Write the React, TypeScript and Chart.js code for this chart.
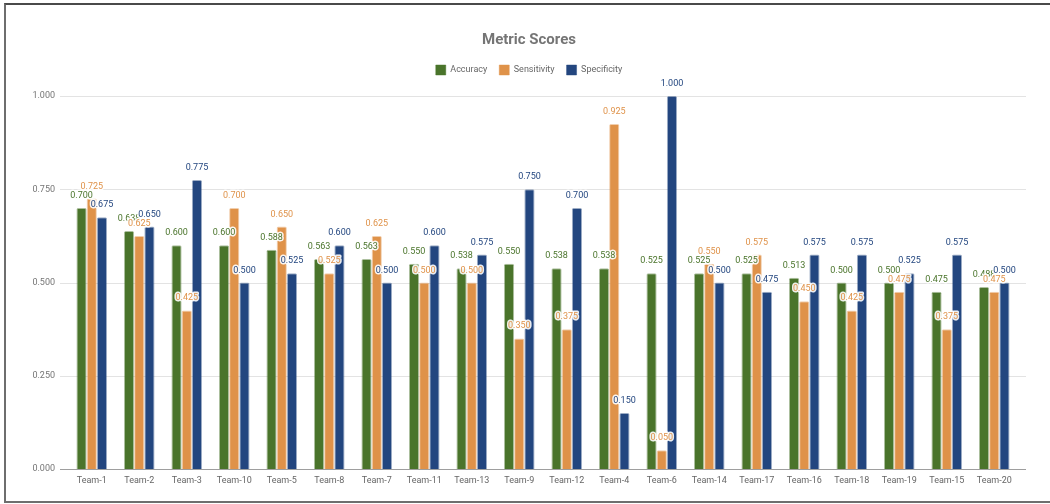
import React, { useEffect, useRef } from "react";
import { Chart, registerables } from "chart.js";

Chart.register(...registerables);

const categories = ["Team-1", "Team-2", "Team-3", "Team-10", "Team-5", "Team-8", "Team-7", "Team-11", "Team-13", "Team-9", "Team-12", "Team-4", "Team-6", "Team-14", "Team-17", "Team-16", "Team-18", "Team-19", "Team-15", "Team-20"];
const accuracy = [0.7, 0.638, 0.6, 0.6, 0.588, 0.563, 0.563, 0.55, 0.538, 0.55, 0.538, 0.538, 0.525, 0.525, 0.525, 0.513, 0.5, 0.5, 0.475, 0.488];
const sensitivity = [0.725, 0.625, 0.425, 0.7, 0.65, 0.525, 0.625, 0.5, 0.5, 0.35, 0.375, 0.925, 0.05, 0.55, 0.575, 0.45, 0.425, 0.475, 0.375, 0.475];
const specificity = [0.675, 0.65, 0.775, 0.5, 0.525, 0.6, 0.5, 0.6, 0.575, 0.75, 0.7, 0.15, 1.0, 0.5, 0.475, 0.575, 0.575, 0.525, 0.575, 0.5];
const yTicks = [0, 0.25, 0.5, 0.75, 1.0];

const GREEN = "#4a742b";
const ORANGE = "#df9249";
const BLUE = "#23467f";

export default function App() {
  const ref = useRef<HTMLCanvasElement | null>(null);
  useEffect(() => {
    document.body.style.margin = "0";
    const canvas = ref.current;
    if (!canvas) return;
    Chart.defaults.font.family = "Roboto";
    const gridPlugin = {
      id: "gridPlugin",
      afterInit(chart: any) {
        const lg = chart.legend;
        if (lg) {
          const orig = lg.fit;
          lg.fit = function () {
            orig.call(this);
            this.height += 11;
          };
        }
      },
      beforeDatasetsDraw(chart: any) {
        const ctx = chart.ctx;
        const ys = chart.scales.y;
        const { left, right } = chart.chartArea;
        ctx.save();
        yTicks.forEach((v) => {
          const py = Math.round(ys.getPixelForValue(v)) + 0.5;
          ctx.beginPath();
          ctx.strokeStyle = v === 0 ? "#9e9e9e" : "#e3e3e3";
          ctx.lineWidth = 1;
          ctx.moveTo(left - 8, py);
          ctx.lineTo(right + 8, py);
          ctx.stroke();
        });
        ctx.restore();
      },
      afterDatasetsDraw(chart: any) {
        const ctx = chart.ctx;
        ctx.save();
        ctx.font = "9px Roboto";
        ctx.textAlign = "center";
        ctx.textBaseline = "alphabetic";
        ctx.lineJoin = "round";
        chart.data.datasets.forEach((ds: any, i: number) => {
          const meta = chart.getDatasetMeta(i);
          meta.data.forEach((el: any, j: number) => {
            const txt = Number(ds.data[j]).toFixed(3);
            const x = el.x;
            const y = el.y - 10;
            ctx.lineWidth = 3;
            ctx.strokeStyle = "rgba(255,255,255,0.9)";
            ctx.strokeText(txt, x, y);
            ctx.fillStyle = ds.labelColor;
            ctx.fillText(txt, x, y);
          });
        });
        ctx.restore();
      },
    };
    const mk = (label: string, data: number[], color: string, border: string) => ({
      label,
      data,
      backgroundColor: color,
      borderColor: border,
      borderWidth: 1,
      borderRadius: 1.5,
      borderSkipped: "start" as const,
      labelColor: color,
      yAxisID: "y",
    });
    const chart = new Chart(canvas, {
      type: "bar",
      data: {
        labels: categories,
        datasets: [
          mk("Accuracy", accuracy, GREEN, "rgba(74,116,43,0.45)"),
          mk("Sensitivity", sensitivity, ORANGE, "rgba(223,146,73,0.45)"),
          mk("Specificity", specificity, BLUE, "rgba(35,70,127,0.45)"),
        ] as any,
      },
      options: {
        animation: false,
        responsive: false,
        maintainAspectRatio: false,
        layout: { padding: { left: 8, right: 0, top: 0, bottom: 0 } },
        datasets: { bar: { categoryPercentage: 0.645, barPercentage: 1.0 } },
        plugins: {
          title: {
            display: true,
            text: "Metric Scores",
            color: "#757575",
            font: { size: 15, weight: "bold", family: "Roboto" },
            padding: { top: 31, bottom: 4 },
          },
          legend: {
            display: true,
            position: "top",
            labels: {
              boxWidth: 10,
              boxHeight: 10,
              padding: 12,
              color: "#666666",
              font: { size: 9, family: "Roboto" },
            },
          },
          tooltip: { enabled: false },
        },
        scales: {
          x: {
            grid: { display: false, drawTicks: false },
            border: { display: false },
            ticks: { color: "#666666", font: { size: 9, family: "Roboto" }, padding: 6, maxRotation: 0, autoSkip: false },
            afterFit: (s: any) => {
              s.height = 35;
            },
          },
          y: {
            min: 0,
            max: 1,
            grid: { display: false, drawTicks: false },
            border: { display: false },
            ticks: {
              stepSize: 0.25,
              color: "#757575",
              font: { size: 9, family: "Roboto" },
              padding: 13,
              callback: (v: any) => Number(v).toFixed(3),
            },
            afterFit: (s: any) => {
              s.width = 60;
            },
          },
          yr: {
            position: "right",
            min: 0,
            max: 1,
            grid: { display: false, drawTicks: false },
            border: { display: false },
            ticks: { display: false },
            afterFit: (s: any) => {
              s.width = 32;
            },
          },
        },
      },
      plugins: [gridPlugin],
    });
    return () => chart.destroy();
  }, []);
  return (
    <div style={{ position: "fixed", left: 0, top: 0, width: 1050, height: 504, background: "#fff", overflow: "hidden" }}>
      <canvas ref={ref} width={1050} height={504} style={{ position: "absolute", left: 0, top: 0, width: 1050, height: 504 }} />
      <div
        style={{
          position: "absolute",
          left: 4,
          top: 3,
          width: 1100,
          height: 496,
          borderTop: "2px solid #4a4a4a",
          borderLeft: "2px solid #6e6e6e",
          borderBottom: "2px solid #6e6e6e",
          pointerEvents: "none",
        }}
      />
    </div>
  );
}
